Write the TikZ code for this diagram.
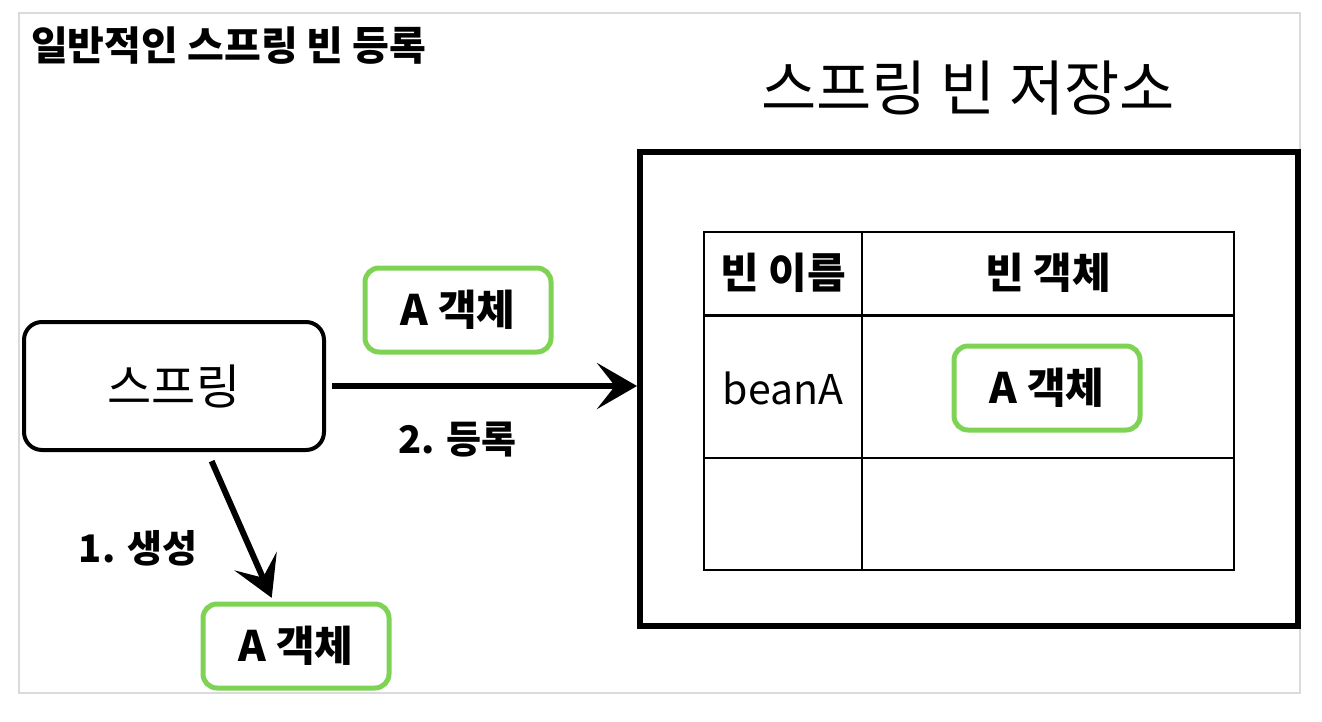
\documentclass[tikz,border=0pt]{standalone}
\usepackage{fontspec}
\setmainfont{Noto Sans CJK KR}
\usetikzlibrary{arrows.meta,calc}
\definecolor{chalkgreen}{RGB}{126,211,84}
\definecolor{framegray}{RGB}{218,218,218}
\tikzset{
  objbox/.style={draw=chalkgreen, line width=2.5pt, rounded corners=7pt,
    minimum width=93pt, minimum height=42pt, inner sep=0pt,
    font=\fontsize{21}{23}\selectfont\bfseries},
  springbox/.style={draw, line width=2pt, rounded corners=9pt,
    minimum width=150pt, minimum height=64pt,
    font=\fontsize{24}{26}\selectfont},
  steplabel/.style={font=\fontsize{19}{21}\selectfont\bfseries},
  cellhead/.style={font=\fontsize{21}{23}\selectfont\bfseries},
  bigarrow/.style={line width=3pt, -{Stealth[length=20pt,width=23pt,inset=9pt]}}
}
\begin{document}
\begin{tikzpicture}[x=0.5pt, y=-0.5pt]
    \useasboundingbox (0,0) rectangle (1322,722);
    \draw[framegray, line width=1.2pt] (19,13) rectangle (1300,693);
    \node[anchor=west, font=\fontsize{20}{22}\selectfont\bfseries] (title) at (24,46) {일반적인 스프링 빈 등록};
    \node[font=\fontsize{30}{32}\selectfont] (storetitle) at (968,88) {스프링 빈 저장소};
    % bean store
    \node[draw, line width=3pt, minimum width=329pt, minimum height=237pt] (store) at (969,389) {};
    \coordinate (tl) at (704,232);
    \coordinate (br) at (1234,570);
    \draw[line width=1pt] (tl) rectangle (br);
    \draw[line width=0.6pt] (862,232) -- (862,570);
    \draw[line width=1.5pt] (704,315) -- (1234,315);
    \draw[line width=0.6pt] (704,458) -- (1234,458);
    \node[cellhead] (headname) at (783,273) {빈 이름};
    \node[cellhead] (headobj) at (1048,273) {빈 객체};
    \node[font=\fontsize{20.5}{22}\selectfont] (beanname) at (783,388) {beanA};
    \node[objbox] (objstored) at (1047,388) {A 객체};
    % spring and objects
    \node[springbox] (spring) at (174,386) {스프링};
    \node[objbox] (objreg) at (458,310) {A 객체};
    \node[objbox] (objnew) at (296,646) {A 객체};
    \draw[bigarrow, shorten <=3pt] (spring.east) -- (spring.east -| store.west);
    \node[steplabel] (reglabel) at (457,440) {2. 등록};
    \draw[bigarrow, shorten <=5pt, shorten >=2pt] (spring.-63) -- (objnew.117);
    \node[steplabel] (newlabel) at (138,548) {1. 생성};
\end{tikzpicture}
\end{document}
